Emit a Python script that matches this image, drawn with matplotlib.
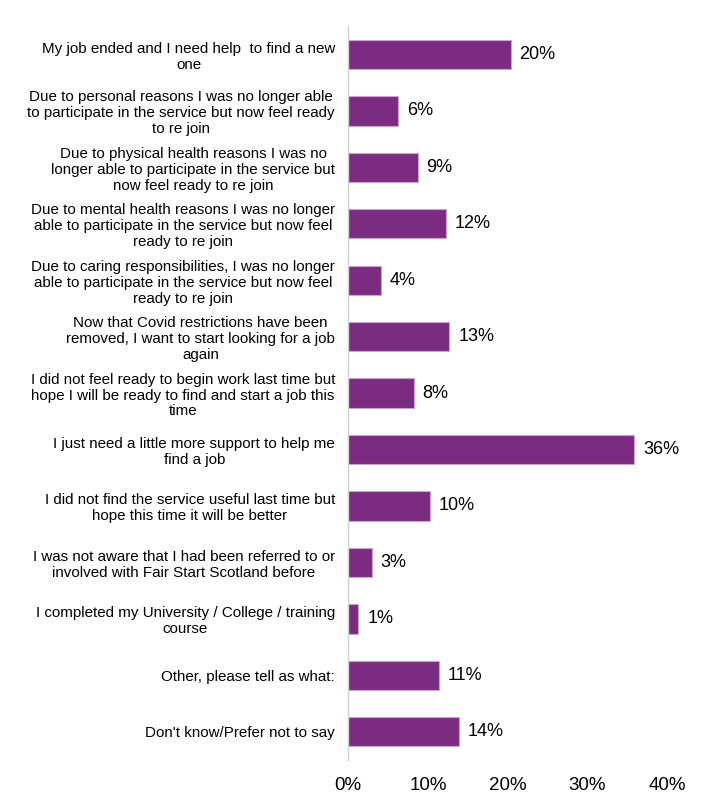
import matplotlib
matplotlib.use("Agg")
import matplotlib.pyplot as plt

categories = [
    "My job ended and I need help  to find a new\none",
    "Due to personal reasons I was no longer able\nto participate in the service but now feel ready\nto re join",
    "Due to physical health reasons I was no\nlonger able to participate in the service but\nnow feel ready to re join",
    "Due to mental health reasons I was no longer\nable to participate in the service but now feel\nready to re join",
    "Due to caring responsibilities, I was no longer\nable to participate in the service but now feel\nready to re join",
    "Now that Covid restrictions have been\nremoved, I want to start looking for a job\nagain",
    "I did not feel ready to begin work last time but\nhope I will be ready to find and start a job this\ntime",
    "I just need a little more support to help me\nfind a job",
    "I did not find the service useful last time but\nhope this time it will be better",
    "I was not aware that I had been referred to or\ninvolved with Fair Start Scotland before",
    "I completed my University / College / training\ncourse",
    "Other, please tell as what:",
    "Don't know/Prefer not to say",
]
values = [20.4, 6.3, 8.7, 12.3, 4.1, 12.7, 8.2, 35.9, 10.3, 3.0, 1.3, 11.4, 13.9]
value_labels = ["20%", "6%", "9%", "12%", "4%", "13%", "8%", "36%", "10%", "3%", "1%", "11%", "14%"]
xticks = [0, 10, 20, 30, 40]
xtick_labels = ["0%", "10%", "20%", "30%", "40%"]

plt.rcParams['font.family'] = ['Liberation Sans', 'DejaVu Sans']

fig = plt.figure(figsize=(7.09, 8.09), dpi=100)
ax = fig.add_axes([0.491, 0.0606, 0.450, 0.907])

n = len(categories)
pos = list(range(n))
ax.barh(pos, values, height=0.52, color="#7B2C80", edgecolor="#C9A6CF", linewidth=0.8)
ax.set_ylim(n - 0.5, -0.5)
ax.set_xlim(0, 40)

for p, v, lab in zip(pos, values, value_labels):
    ax.text(v + 1.1, p, lab, va="center", ha="left", fontsize=13, color="black")

ax.set_yticks(pos)
ax.set_yticklabels(categories, fontsize=10.9, multialignment="center", linespacing=1.17)
ax.set_xticks(xticks)
ax.set_xticklabels(xtick_labels, fontsize=13.5)
ax.tick_params(axis="both", length=0)
ax.tick_params(axis="y", pad=9.4)
ax.tick_params(axis="x", pad=12)

for s in ["top", "right", "bottom"]:
    ax.spines[s].set_visible(False)
ax.spines["left"].set_color("#D0D0D0")
ax.spines["left"].set_linewidth(1.0)

fig.savefig("out.png", dpi=100)
